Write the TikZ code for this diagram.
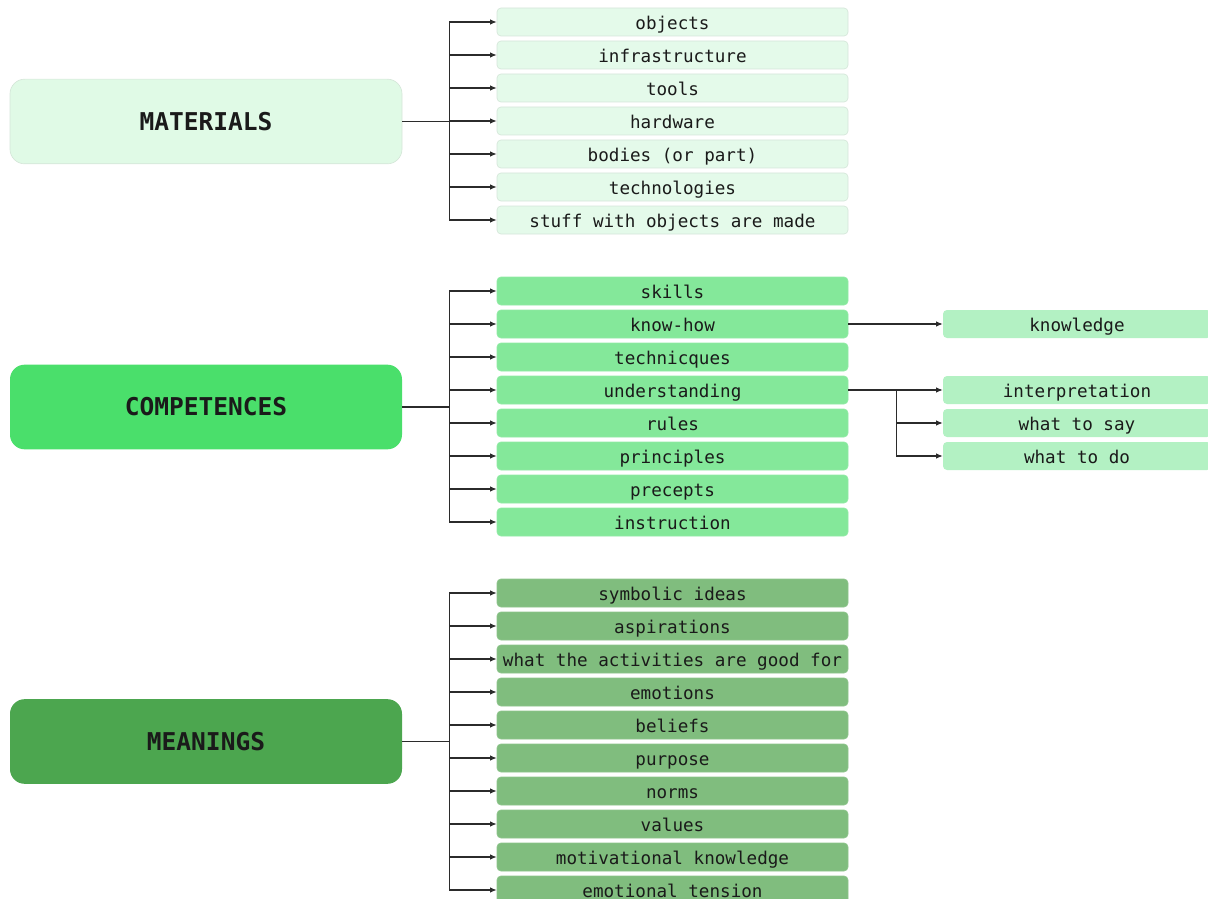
\documentclass[tikz,border=0pt]{standalone}
\usepackage{fontspec}
\setmonofont{DejaVu Sans Mono}
\usetikzlibrary{arrows.meta}
\definecolor{matbox}{HTML}{E0FAE6}
\definecolor{matitem}{HTML}{E4FAEA}
\definecolor{matedge}{HTML}{D5E6D9}
\definecolor{compbox}{HTML}{4ADF6B}
\definecolor{compitem}{HTML}{84E89A}
\definecolor{compsub}{HTML}{B3F1C3}
\definecolor{meanbox}{HTML}{4CA64F}
\definecolor{meanitem}{HTML}{80BD7E}
\definecolor{ink}{HTML}{1A1A1A}
\definecolor{wire}{HTML}{2B2B2B}
\tikzset{
  head/.style={rectangle, rounded corners=11pt, minimum width=294pt, minimum height=63.5pt,
    inner sep=0pt, text=ink, text height=12.8pt, text depth=0pt,
    font=\ttfamily\bfseries\fontsize{18.4}{20}\selectfont},
  item/.style={rectangle, rounded corners=3pt, minimum width=263.25pt, minimum height=21pt,
    inner sep=0pt, text=ink, text height=11pt, text depth=0pt,
    font=\ttfamily\fontsize{13.2}{14}\selectfont},
  subitem/.style={item, minimum width=201pt, fill=compsub},
  link/.style={draw=wire, line width=0.8pt, -{Latex[length=5pt,width=4.2pt]}},
  plain/.style={draw=wire, line width=0.8pt}
}
\begin{document}
\begin{tikzpicture}[x=0.75pt,y=-0.75pt]
\useasboundingbox (0,0) rectangle (1208,899);
\clip (0,0) rectangle (1208,899);

% category boxes
\node[head, fill=matbox, draw=matedge, line width=0.5pt] (mat) at (206,121.5) {MATERIALS};
\node[head, fill=compbox] (comp) at (206,407) {COMPETENCES};
\node[head, fill=meanbox] (mean) at (206,741.5) {MEANINGS};

% materials
\foreach \n/\y/\t in {m1/22/objects, m2/55/infrastructure, m3/88/tools, m4/121/hardware,
    m5/154/bodies (or part), m6/187/technologies, m7/220/stuff with objects are made}
  \node[item, fill=matitem, draw=matedge, line width=0.5pt] (\n) at (672.5,\y) {\t};

% competences
\foreach \n/\y/\t in {c1/291/skills, c2/324/know-how, c3/357/technicques, c4/390/understanding,
    c5/423/rules, c6/456/principles, c7/489/precepts, c8/522/instruction}
  \node[item, fill=compitem, draw=compitem!90!white, line width=0.5pt] (\n) at (672.5,\y) {\t};

% sub-items of competences
\node[subitem] (r1) at (1077,324) {knowledge};
\node[subitem] (r2) at (1077,390) {interpretation};
\node[subitem] (r3) at (1077,423) {what to say};
\node[subitem] (r4) at (1077,456) {what to do};

% meanings
\foreach \n/\y/\t in {n1/593/symbolic ideas, n2/626/aspirations, n3/659/what the activities are good for,
    n4/692/emotions, n5/725/beliefs, n6/758/purpose, n7/791/norms, n8/824/values,
    n9/857/motivational knowledge, n10/890/emotional tension}
  \node[item, fill=meanitem, draw=meanitem!90!white, line width=0.5pt] (\n) at (672.5,\y) {\t};

% connectors
\foreach \n in {m1,m2,m3,m4,m5,m6,m7}
  \draw[link] (mat.east) -- ++(47,0) |- (\n.west);
\foreach \n in {c1,c2,c3,c4,c5,c6,c7,c8}
  \draw[link] (comp.east) -- ++(47,0) |- (\n.west);
\foreach \n in {n1,n2,n3,n4,n5,n6,n7,n8,n9,n10}
  \draw[link] (mean.east) -- ++(47,0) |- (\n.west);

\draw[link] (c2.east) -- (r1.west);
\foreach \n in {r2,r3,r4}
  \draw[link] (c4.east) -- ++(48,0) |- (\n.west);
\end{tikzpicture}
\end{document}
